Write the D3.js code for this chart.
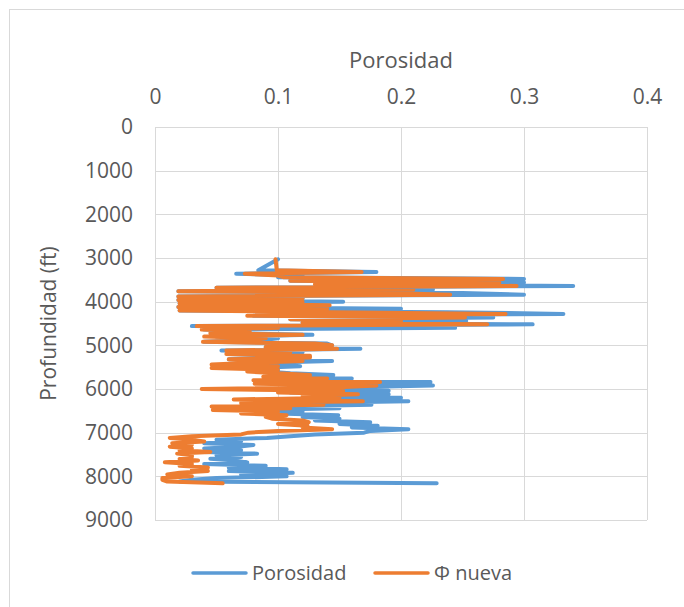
<!DOCTYPE html>
<html>
<head>
<meta charset="utf-8">
<script src="https://cdn.jsdelivr.net/npm/d3@7"></script>
<style>
  body { margin: 0; background: #fff; }
  text { font-family: "Open Sans", sans-serif; fill: #595959; }
</style>
</head>
<body>
<svg id="chart" width="684" height="607"></svg>
<script>
// depth (ft)
const depth = [3030,
  3280,3320,3360,3400,3440,3480,3520,3560,3600,3640,
  3680,3720,3760,3800,3840,3880,3920,3960,4000,4040,
  4080,4120,4160,4200,4240,4280,4320,4360,4400,4440,
  4480,4520,4560,4600,4640,4680,4720,4760,4800,4840,
  4880,4920,4960,5000,5040,5080,5120,5160,5200,5240,
  5280,5320,5360,5400,5440,5480,5520,5560,5600,5640,
  5680,5720,5760,5800,5840,5880,5920,5960,6000,6040,
  6080,6120,6160,6200,6240,6280,6320,6360,6400,6440,
  6480,6520,6560,6600,6640,6680,6720,6760,6800,6840,
  6880,6920,6960,7000,7040,7080,7120,7160,7200,7240,
  7280,7320,7360,7400,7440,7480,7520,7560,7600,7640,
  7680,7720,7760,7800,7840,7880,7920,7960,8000,8040,
  8080,8120,8160];

// Porosidad
const porosidad = [0.100,
  0.084,0.18,0.066,0.12,0.10,0.30,0.11,0.30,0.14,0.34,
  0.05,0.226,0.019,0.25,0.30,0.019,0.12,0.019,0.153,0.02,
  0.14,0.019,0.20,0.02,0.237,0.332,0.08,0.275,0.11,0.253,
  0.12,0.307,0.03,0.244,0.04,0.076,0.05,0.128,0.05,0.10,
  0.088,0.04,0.14,0.144,0.09,0.167,0.054,0.12,0.06,0.10,
  0.10,0.06,0.144,0.09,0.10,0.118,0.08,0.10,0.09,0.11,
  0.145,0.09,0.16,0.09,0.224,0.12,0.226,0.16,0.10,0.19,
  0.11,0.19,0.13,0.20,0.15,0.206,0.12,0.176,0.10,0.15,
  0.08,0.12,0.10,0.149,0.12,0.15,0.13,0.175,0.15,0.181,
  0.16,0.206,0.175,0.17,0.13,0.11,0.091,0.05,0.07,0.04,
  0.08,0.069,0.04,0.07,0.04,0.083,0.05,0.07,0.045,0.065,
  0.075,0.04,0.09,0.06,0.107,0.06,0.112,0.07,0.107,0.05,
  0.03,0.02,0.229];

// Φ nueva
const phiNueva = [0.098,
  0.099,0.168,0.073,0.10,0.105,0.283,0.11,0.28,0.13,0.294,
  0.05,0.21,0.019,0.19,0.24,0.019,0.12,0.019,0.12,0.02,
  0.142,0.019,0.14,0.02,0.142,0.285,0.075,0.252,0.11,0.20,
  0.12,0.27,0.034,0.10,0.038,0.077,0.045,0.12,0.04,0.09,
  0.08,0.039,0.13,0.144,0.09,0.148,0.058,0.11,0.058,0.126,
  0.126,0.06,0.12,0.08,0.046,0.10,0.046,0.10,0.075,0.10,
  0.126,0.088,0.14,0.08,0.183,0.081,0.18,0.15,0.038,0.153,
  0.10,0.165,0.12,0.15,0.064,0.169,0.07,0.137,0.046,0.11,
  0.047,0.10,0.07,0.107,0.09,0.095,0.12,0.125,0.10,0.124,
  0.12,0.144,0.10,0.076,0.07,0.03,0.012,0.03,0.04,0.014,
  0.03,0.012,0.03,0.02,0.045,0.018,0.03,0.03,0.02,0.035,
  0.008,0.03,0.02,0.043,0.03,0.043,0.02,0.01,0.03,0.006,
  0.006,0.01,0.055];

const xTicks = [0, 0.1, 0.2, 0.3, 0.4];
const yTicks = [0,1000,2000,3000,4000,5000,6000,7000,8000,9000];

const series = [
  {name: "Porosidad", values: porosidad, color: "#5B9BD5"},
  {name: "Φ nueva", values: phiNueva, color: "#ED7D31"}
];

const svg = d3.select("#chart");
const margin = {top: 127, right: 37, bottom: 87, left: 155};
const width = 684, height = 607;

// chart frame
svg.append("rect")
  .attr("x", 9.5).attr("y", 9.5)
  .attr("width", 700).attr("height", 700)
  .attr("fill", "none").attr("stroke", "#d9d9d9");

const x = d3.scaleLinear().domain([0, 0.4]).range([margin.left, width - margin.right]);
const y = d3.scaleLinear().domain([0, 9000]).range([margin.top, height - margin.bottom]);

// grid
svg.append("g").selectAll("line").data(xTicks).join("line")
  .attr("x1", d => Math.round(x(d)) + 0.5).attr("x2", d => Math.round(x(d)) + 0.5)
  .attr("y1", y(0)).attr("y2", y(9000))
  .attr("stroke", "#d9d9d9").attr("stroke-width", 1);
svg.append("g").selectAll("line").data(yTicks).join("line")
  .attr("x1", x(0)).attr("x2", x(0.4))
  .attr("y1", d => Math.round(y(d)) + 0.5).attr("y2", d => Math.round(y(d)) + 0.5)
  .attr("stroke", "#d9d9d9").attr("stroke-width", 1);

// axes (labels only)
const xAxis = svg.append("g")
  .attr("transform", `translate(0, ${y(0) - 20})`)
  .call(d3.axisTop(x).tickValues(xTicks).tickSize(0).tickFormat(d => d));
xAxis.select(".domain").remove();
xAxis.selectAll("text").style("font-size", "21px").attr("fill", "#595959");

const yAxis = svg.append("g")
  .attr("transform", `translate(${x(0) - 22}, 0)`)
  .call(d3.axisLeft(y).tickValues(yTicks).tickSize(0).tickFormat(d => d));
yAxis.select(".domain").remove();
yAxis.selectAll("text").style("font-size", "21px").attr("fill", "#595959").attr("x", 0);

// titles
svg.append("text")
  .attr("x", (x(0) + x(0.4)) / 2).attr("y", 68)
  .attr("text-anchor", "middle")
  .style("font-size", "22px")
  .text("Porosidad");

svg.append("text")
  .attr("transform", `translate(56, ${(y(0) + y(9000)) / 2}) rotate(-90)`)
  .attr("text-anchor", "middle")
  .style("font-size", "21px")
  .text("Profundidad (ft)");

// lines
const line = d3.line()
  .x(d => x(d[1]))
  .y(d => y(d[0]));

svg.append("g").selectAll("path").data(series).join("path")
  .attr("d", s => line(depth.map((dp, i) => [dp, s.values[i]])))
  .attr("fill", "none")
  .attr("stroke", s => s.color)
  .attr("stroke-width", 4)
  .attr("stroke-linejoin", "round")
  .attr("stroke-linecap", "round");

// legend
const legendPos = [193, 375];
const legend = svg.append("g").selectAll("g").data(series).join("g")
  .attr("transform", (d, i) => `translate(${legendPos[i]}, 573)`);
legend.append("line")
  .attr("x1", 0).attr("x2", 53)
  .attr("stroke", d => d.color).attr("stroke-width", 3.5)
  .attr("stroke-linecap", "round");
legend.append("text")
  .attr("x", 59).attr("dy", "0.35em")
  .style("font-size", "20px")
  .text(d => d.name);
</script>
</body>
</html>
